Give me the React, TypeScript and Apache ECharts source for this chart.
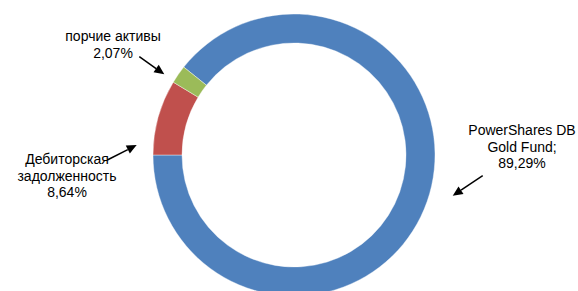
import React, { useEffect, useRef } from "react";
import * as echarts from "echarts";

const categories = ["PowerShares DB Gold Fund", "Дебиторская задолженность", "порчие активы"];
const values = [89.29, 8.64, 2.07];
const colors = ["#4F81BD", "#C0504D", "#9BBB59"];
// label lines as printed on the chart (percent appended from values)
const labelLines = [["PowerShares DB", "Gold Fund;"], ["Дебиторская", "задолженность"], ["порчие активы"]];

// annotation placement (label centre, arrow start, arrow tip)
const labelCenters = [[522, 130], [67, 159], [113, 36]];
const arrows = [
  [[482.7, 175.7], [452.7, 195.7]],
  [[107.3, 160], [136.7, 145]],
  [[139.3, 56.7], [164.3, 74.3]],
];

const fmt = (v: number) => v.toFixed(2).replace(".", ",") + "%";

export default function App() {
  const ref = useRef<HTMLDivElement>(null);
  useEffect(() => {
    if (!ref.current) return;
    const chart = echarts.init(ref.current, null, { renderer: "svg" });
    const total = values.reduce((a, b) => a + b, 0);
    const startAngle = 180 + (360 * values[0]) / total;
    const lh = 16.6;
    const graphics: any[] = [];
    labelLines.forEach((lines, i) => {
      const all = [...lines, fmt(values[i])];
      all.forEach((t, j) => {
        graphics.push({
          type: "text",
          x: labelCenters[i][0],
          y: labelCenters[i][1] + j * lh,
          style: {
            text: t,
            fill: "#000",
            font: "14px 'Liberation Sans', Arial, sans-serif",
            textAlign: "center",
            textVerticalAlign: "middle",
          },
          z: 10,
        });
      });
    });
    arrows.forEach(([s, e]) => {
      const dx = e[0] - s[0];
      const dy = e[1] - s[1];
      const len = Math.hypot(dx, dy);
      const ux = dx / len;
      const uy = dy / len;
      const hl = 10;
      const hw = 4.5;
      const bx = e[0] - ux * hl;
      const by = e[1] - uy * hl;
      graphics.push({
        type: "line",
        shape: { x1: s[0], y1: s[1], x2: bx, y2: by },
        style: { stroke: "#000", lineWidth: 1.5 },
        z: 10,
      });
      graphics.push({
        type: "polygon",
        shape: {
          points: [
            [e[0], e[1]],
            [bx - uy * hw, by + ux * hw],
            [bx + uy * hw, by - ux * hw],
          ],
        },
        style: { fill: "#000" },
        z: 10,
      });
    });
    chart.setOption({
      animation: false,
      series: [
        {
          type: "pie",
          center: [294, 155],
          radius: [112, 141],
          startAngle,
          clockwise: true,
          avoidLabelOverlap: false,
          label: { show: false },
          labelLine: { show: false },
          emphasis: { disabled: true },
          itemStyle: { borderColor: "#ffffff", borderWidth: 0.4 },
          data: categories.map((name, i) => ({
            name,
            value: values[i],
            itemStyle: { color: colors[i] },
          })),
        },
      ],
      graphic: graphics,
    });
    return () => chart.dispose();
  }, []);
  return (
    <div
      ref={ref}
      style={{ position: "fixed", left: 0, top: 0, width: 578, height: 291, background: "#fff" }}
    />
  );
}
